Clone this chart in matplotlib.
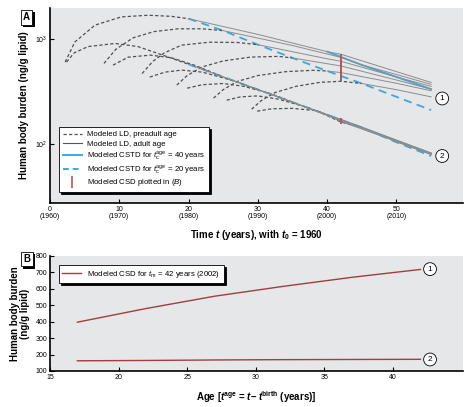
import numpy as np
import matplotlib
matplotlib.use("Agg")
import matplotlib.pyplot as plt
import matplotlib.patheffects as pe
from matplotlib.lines import Line2D

plt.rcParams['font.family'] = ['Liberation Sans', 'DejaVu Sans']
plt.rcParams['mathtext.fontset'] = 'custom'
plt.rcParams['mathtext.rm'] = 'Liberation Sans'
plt.rcParams['mathtext.it'] = 'Liberation Sans:italic'
plt.rcParams['mathtext.bf'] = 'Liberation Sans:bold'
plt.rcParams['mathtext.bfit'] = 'Liberation Sans:bold:italic'

# ---- Panel A data (t in years since 1960, body burden in ng/g lipid) ----
# scenario 1 (upper bundle), cohorts born t = 0, 5, ..., 25
s1_pre_t = [[2.2, 3.6, 6.5, 10.3, 14.2, 17.5, 20],
            [7.8, 9.5, 12, 15, 18.5, 22, 25],
            [13.3, 14.8, 16.5, 19, 23, 27, 30],
            [18.3, 19.8, 22, 25, 29, 33, 35],
            [23.6, 25, 27, 30, 34, 38, 40],
            [29.1, 30.5, 32.5, 35.5, 39, 42, 45]]
s1_pre_v = [[605, 940, 1360, 1630, 1690, 1650, 1567],
            [587, 800, 1030, 1180, 1255, 1255, 1205],
            [470, 610, 740, 877, 935, 930, 886],
            [365, 450, 545, 620, 675, 685, 662],
            [274, 330, 395, 450, 490, 505, 497],
            [215, 260, 310, 355, 388, 397, 378]]
s1_ad_t = [[20, 30, 40, 42, 50, 55],
           [25, 35, 42, 45, 50, 55],
           [30, 40, 42, 50, 55],
           [35, 42, 50, 55],
           [40, 42, 50, 55],
           [45, 50, 55]]
s1_ad_v = [[1567, 1110, 760, 718, 490, 387],
           [1205, 870, 670, 568, 460, 371],
           [886, 650, 615, 436, 355],
           [662, 555, 408, 334],
           [497, 480, 380, 322],
           [378, 330, 282]]
s1_cstd40_t = [40, 45, 50, 55]
s1_cstd40_v = [760, 568, 436, 334]
s1_cstd20_t = [20, 25, 30, 35, 40, 45, 50, 55]
s1_cstd20_v = [1567, 1205, 886, 662, 497, 378, 282, 211]

# scenario 2 (lower bundle)
s2_pre_t = [[2.4, 3.5, 5.5, 9.4, 12.7, 16.4, 20],
            [9.1, 11.3, 14.5, 17.5, 21, 25],
            [14.4, 16.6, 19, 22, 26, 30],
            [19.8, 22, 25, 28, 32, 35],
            [25.5, 27.5, 30, 33, 37, 40],
            [29.9, 32, 35, 38.5, 42, 45]]
s2_pre_v = [[605, 740, 850, 910, 850, 700, 576],
            [565, 674, 704, 666, 560, 437],
            [435, 485, 507, 485, 410, 331],
            [341, 368, 378, 355, 300, 251],
            [262, 282, 288, 268, 225, 190],
            [206, 217, 219, 208, 162, 144]]
s2_ad_t = [[20, 30, 40, 42, 50, 55],
           [25, 35, 42, 50, 55],
           [30, 40, 42, 50, 55],
           [35, 42, 50, 55],
           [40, 42, 50, 55],
           [45, 50, 55]]
s2_ad_v = [[576, 331, 190, 171, 109, 82],
           [437, 251, 170, 108, 81.5],
           [331, 189, 169, 108, 81],
           [251, 167, 107, 80.5],
           [190, 164, 106, 80],
           [144, 105, 79.5]]
s2_cstd40_t = [40, 45, 50, 55]
s2_cstd40_v = [190, 144, 108, 81.5]
s2_cstd20_t = [20, 25, 30, 35, 40, 45, 50, 55]
s2_cstd20_v = [576, 437, 331, 251, 190, 144, 104, 77]

# ---- Panel B data: cross-sectional data at t_m = 42 (2002) ----
t_m = 42
csd_age = [17, 22, 27, 32, 37, 42]
csd_s1 = [397, 480, 555, 615, 670, 718]
csd_s2 = [162, 164, 167, 169, 170, 171]

xticks_a = [0, 10, 20, 30, 40, 50]
xticklabels_a = ['0\n(1960)', '10\n(1970)', '20\n(1980)', '30\n(1990)', '40\n(2000)', '50\n(2010)']

bg = '#e6e7e8'
c_pre = '#505050'
c_ad = '#8c8c8c'
c_blue = '#3aa9de'
c_red = '#b0575a'
c_bline = '#a23d40'

fig = plt.figure(figsize=(4.71, 4.07), dpi=100)
axA = fig.add_axes([0.106, 0.501, 0.877, 0.479])
axB = fig.add_axes([0.106, 0.0885, 0.877, 0.2826])

for ax in (axA, axB):
    ax.set_facecolor(bg)
    for s in ('top', 'right'):
        ax.spines[s].set_visible(False)
    for s in ('left', 'bottom'):
        ax.spines[s].set_linewidth(1.2)
    ax.tick_params(direction='in', length=3, width=0.8, labelsize=5, pad=2)

# Panel A
for ts, vs in zip(s1_pre_t + s2_pre_t, s1_pre_v + s2_pre_v):
    axA.plot(ts, vs, color=c_pre, lw=0.9, dashes=(2.6, 1.8), zorder=3)
for ts, vs in zip(s1_ad_t + s2_ad_t, s1_ad_v + s2_ad_v):
    axA.plot(ts, vs, color=c_ad, lw=0.7, zorder=3)
axA.plot(s1_cstd40_t, s1_cstd40_v, color=c_blue, lw=1.3, zorder=2)
axA.plot(s2_cstd40_t, s2_cstd40_v, color=c_blue, lw=1.3, zorder=2)
axA.plot(s1_cstd20_t, s1_cstd20_v, color=c_blue, lw=1.3, dashes=(4.5, 3), zorder=2)
axA.plot(s2_cstd20_t, s2_cstd20_v, color=c_blue, lw=1.3, dashes=(4.5, 3), zorder=2)
axA.vlines(t_m, min(csd_s1), max(csd_s1), color=c_red, lw=1.4, zorder=4)
axA.vlines(t_m, min(csd_s2) - 8, max(csd_s2) + 6, color=c_red, lw=1.4, zorder=4)

axA.set_yscale('log')
axA.set_xlim(0, 59.6)
axA.set_ylim(27.4, 1975)
axA.yaxis.set_minor_locator(matplotlib.ticker.NullLocator())
axA.set_yticks([100, 1000])
axA.set_xticks(xticks_a)
axA.set_xticklabels(xticklabels_a, linespacing=1.0)
axA.set_ylabel('Human body burden (ng/g lipid)', fontsize=7, fontweight='bold', labelpad=4)
axA.set_xlabel(r'Time $\mathbfit{t}$ (years), with $\mathbfit{t}_\mathbf{0}$ = 1960',
               fontsize=7, fontweight='bold', labelpad=6)

for lab, ty, tv in [('1', 56.6, 272), ('2', 56.6, 77)]:
    axA.text(ty, tv, lab, fontsize=6, ha='center', va='center', zorder=6,
             bbox=dict(boxstyle='circle,pad=0.35', fc='white', ec='black', lw=0.6))

handles = [Line2D([], [], color=c_pre, lw=0.9, dashes=(2.6, 1.8)),
           Line2D([], [], color='#555555', lw=0.8),
           Line2D([], [], color=c_blue, lw=1.4),
           Line2D([], [], color=c_blue, lw=1.4, dashes=(3, 2)),
           Line2D([], [], color=c_red, marker='|', ls='None', ms=8, mew=1.2)]
labels = ['Modeled LD, preadult age',
          'Modeled LD, adult age',
          r'Modeled CSTD for $t_\mathrm{c}^\mathrm{age}$ = 40 years',
          r'Modeled CSTD for $t_\mathrm{c}^\mathrm{age}$ = 20 years',
          r'Modeled CSD plotted in ($B$)']
legA = axA.legend(handles, labels, loc='lower left', bbox_to_anchor=(0.012, 0.035),
                  fontsize=5.6, frameon=True, fancybox=False, edgecolor='black',
                  framealpha=1, handlelength=2.5, handletextpad=0.6,
                  labelspacing=0.22, borderpad=0.5,
                  shadow={'color': 'black', 'alpha': 1, 'ox': 1.5, 'oy': -1.5})
legA.get_frame().set_linewidth(0.6)

# Panel B
axB.plot(csd_age, csd_s1, color=c_bline, lw=1.0)
axB.plot(csd_age, csd_s2, color=c_bline, lw=1.0)
axB.set_xlim(15, 45.1)
axB.set_ylim(100, 800)
axB.set_xticks([15, 20, 25, 30, 35, 40])
axB.set_yticks(range(100, 801, 100))
axB.set_ylabel('Human body burden\n(ng/g lipid)', fontsize=7, fontweight='bold',
               labelpad=4, linespacing=1.0)
axB.set_xlabel(r'Age [$\mathbfit{t}^\mathbf{age}$ = $\mathbfit{t}$– $\mathbfit{t}^\mathbf{birth}$ (years)]',
               fontsize=7, fontweight='bold', labelpad=6)
for lab, ax_, av in [('1', 42.7, 720), ('2', 42.7, 170)]:
    axB.text(ax_, av, lab, fontsize=6, ha='center', va='center', zorder=6,
             bbox=dict(boxstyle='circle,pad=0.35', fc='white', ec='black', lw=0.6))
legB = axB.legend([Line2D([], [], color=c_bline, lw=1.0)],
                  [r'Modeled CSD for $t_\mathrm{m}$ = 42 years (2002)'],
                  loc='upper left', bbox_to_anchor=(0.012, 0.955), fontsize=5.6,
                  frameon=True, fancybox=False, edgecolor='black', framealpha=1,
                  handlelength=2.4, borderpad=0.45,
                  shadow={'color': 'black', 'alpha': 1, 'ox': 1.5, 'oy': -1.5})
legB.get_frame().set_linewidth(0.6)

# panel letters
for lab, x, y in [('A', 26.5, 17.5), ('B', 27, 259)]:
    t = fig.text(x / 471, 1 - y / 407, lab, fontsize=7, fontweight='bold',
                 ha='center', va='center',
                 bbox=dict(boxstyle='square,pad=0.25', fc='white', ec='black', lw=0.6))
    t.get_bbox_patch().set_path_effects([pe.SimplePatchShadow(offset=(1.5, -1.5), shadow_rgbFace='k', alpha=1),
                                         pe.Normal()])

fig.savefig('out.png', dpi=100)
